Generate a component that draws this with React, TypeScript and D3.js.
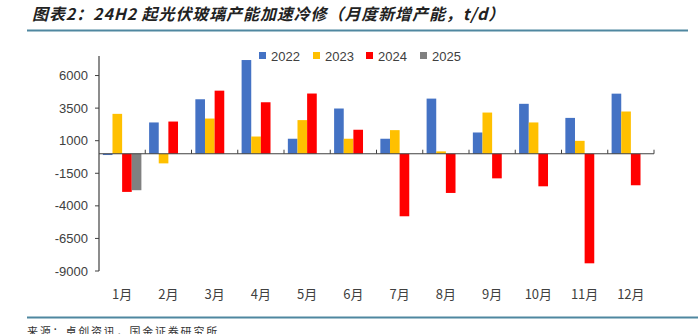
import React from "react";
import * as d3 from "d3";

const categories = ["1月", "2月", "3月", "4月", "5月", "6月", "7月", "8月", "9月", "10月", "11月", "12月"];
const seriesNames = ["2022", "2023", "2024", "2025"];
const seriesColors = ["#4472C4", "#FFC000", "#FF0000", "#808080"];
const values2022 = [-100, 2400, 4180, 7190, 1150, 3470, 1150, 4230, 1630, 3830, 2750, 4610];
const values2023 = [3060, -740, 2700, 1320, 2580, 1150, 1810, 180, 3160, 2400, 990, 3240];
const values2024 = [-2930, 2470, 4840, 3950, 4620, 1840, -4800, -3010, -1890, -2500, -8410, -2420];
const values2025: (number | null)[] = [-2800, null, null, null, null, null, null, null, null, null, null, null];
const yTicks = [6000, 3500, 1000, -1500, -4000, -6500, -9000];
const titleText = "图表2：24H2 起光伏玻璃产能加速冷修（月度新增产能，t/d）";
const sourceText = "来源：卓创资讯，国金证券研究所";

const W = 698;
const H = 334;
const plotLeft = 99;
const plotRight = 654;
const plotTop = 56;
const plotBottom = 271;

export default function App() {
  const series = [values2022, values2023, values2024, values2025];
  const x = d3.scaleBand<string>().domain(categories).range([plotLeft, plotRight]).padding(0);
  const y = d3.scaleLinear().domain([-9000, 7500]).range([plotBottom, plotTop]);
  const inner = d3
    .scaleBand<string>()
    .domain(seriesNames)
    .range([0, x.bandwidth()])
    .paddingInner(0)
    .paddingOuter(0.4);
  const y0 = y(0);
  const font = "'Liberation Sans', 'Noto Sans CJK SC', sans-serif";
  const cjk = "'Noto Sans CJK SC', sans-serif";

  return (
    <svg width={W} height={H} style={{ position: "absolute", left: 0, top: 0, background: "#fff" }}>
      <rect x={0} y={0} width={W} height={H} fill="#fff" />
      <text
        x={32}
        y={20}
        fontFamily={cjk}
        fontSize={16}
        fontWeight="bold"
        fontStyle="italic"
        letterSpacing={0.9}
        fill="#222"
      >
        {titleText}
      </text>
      <line x1={27} x2={688} y1={30.5} y2={30.5} stroke="#4F87A0" strokeWidth={2} />

      {/* legend */}
      {seriesNames.map((s, i) => {
        const lx = [259, 313, 366, 420][i];
        return (
          <g key={s}>
            <rect x={lx} y={52} width={7} height={7} fill={seriesColors[i]} />
            <text x={lx + 12} y={61} fontFamily={font} fontSize={13} fill="#404040">
              {s}
            </text>
          </g>
        );
      })}

      {/* bars */}
      {series.map((vals, si) =>
        vals.map((v, ci) => {
          if (v === null || v === undefined) return null;
          const bx = (x(categories[ci]) as number) + (inner(seriesNames[si]) as number);
          const top = Math.min(y(v), y0);
          const h = Math.abs(y(v) - y0);
          return (
            <rect
              key={`${si}-${ci}`}
              x={bx}
              y={top}
              width={inner.bandwidth()}
              height={Math.max(h, 0.8)}
              fill={seriesColors[si]}
            />
          );
        })
      )}

      {/* y axis */}
      <line x1={plotLeft} x2={plotLeft} y1={plotTop} y2={plotBottom} stroke="#404040" strokeWidth={1.2} />
      {yTicks.map((t) => (
        <g key={t}>
          <line x1={plotLeft - 4} x2={plotLeft} y1={y(t)} y2={y(t)} stroke="#404040" strokeWidth={1} />
          <text
            x={plotLeft - 11}
            y={y(t)}
            dy="0.35em"
            textAnchor="end"
            fontFamily={font}
            fontSize={13}
            fill="#404040"
          >
            {t}
          </text>
        </g>
      ))}

      {/* x axis at zero */}
      <line x1={plotLeft} x2={plotRight} y1={y0} y2={y0} stroke="#404040" strokeWidth={1.2} />
      {categories.map((c, i) => {
        const bx = x(c) as number;
        return (
          <g key={c}>
            {i > 0 && <line x1={bx} x2={bx} y1={y0 - 4} y2={y0} stroke="#404040" strokeWidth={1} />}
            <text
              x={bx + x.bandwidth() / 2}
              y={294}
              dy="0.35em"
              textAnchor="middle"
              fontFamily={cjk}
              fontSize={13}
              fill="#404040"
            >
              {c}
            </text>
          </g>
        );
      })}
      <line x1={plotRight} x2={plotRight} y1={y0 - 4} y2={y0} stroke="#404040" strokeWidth={1} />

      <line x1={27} x2={698} y1={317.5} y2={317.5} stroke="#4F87A0" strokeWidth={2} />
      <text x={27} y={336} fontFamily={cjk} fontSize={11} letterSpacing={1.8} fill="#333">
        {sourceText}
      </text>
    </svg>
  );
}
